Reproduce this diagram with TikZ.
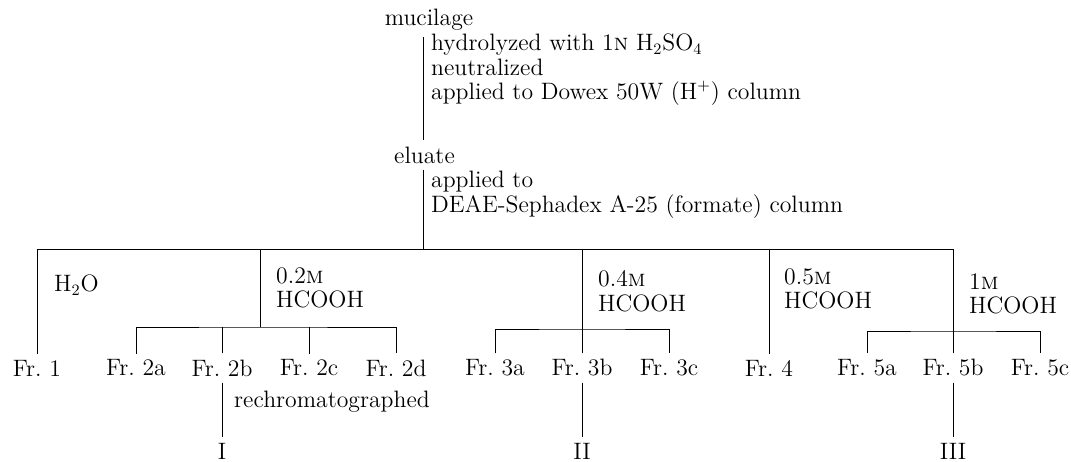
\documentclass[tikz,border=0pt]{standalone}
\usepackage{tikz}
\usetikzlibrary{positioning,calc}

\tikzset{
  plain/.style={inner sep=3.3pt},
  note/.style={plain, anchor=west, align=left, font=\fontsize{13.5}{14}\selectfont},
  frac/.style={plain},
}

\begin{document}
\begin{tikzpicture}[x=0.02cm, y=-0.02cm, font=\fontsize{13.5}{14}\selectfont, line width=0.45pt]
  \useasboundingbox (0,0) rectangle (1071,462);

  % top of the scheme
  \node[plain] (mucilage) at (429,20) {mucilage};
  \coordinate (trunk) at (423,0);
  \node[note] (hydro) at (425,70) {hydrolyzed with 1\textsc{n} H$_2$SO$_4$\\neutralized\\applied to Dowex 50W (H$^+$) column};
  \node[plain, anchor=west] (eluate) at (388,155) {eluate};
  \node[note] (deae) at (425,195) {applied to\\DEAE-Sephadex A-25 (formate) column};
  \draw (trunk |- mucilage.south) -- (trunk |- eluate.north);

  % fractions
  \node[frac] (fr1) at (37,368) {Fr.~1};
  \node[frac] (fr2a) at (136,368) {Fr.~2a};
  \node[frac] (fr2b) at (222,368) {Fr.~2b};
  \node[frac] (fr2c) at (309,368) {Fr.~2c};
  \node[frac] (fr2d) at (396,368) {Fr.~2d};
  \node[frac] (fr3a) at (495,368) {Fr.~3a};
  \node[frac] (fr3b) at (582,368) {Fr.~3b};
  \node[frac] (fr3c) at (669,368) {Fr.~3c};
  \node[frac] (fr4) at (769,368) {Fr.~4};
  \node[frac] (fr5a) at (867,368) {Fr.~5a};
  \node[frac] (fr5b) at (953,368) {Fr.~5b};
  \node[frac] (fr5c) at (1040,368) {Fr.~5c};

  % branch points
  \coordinate (main) at (0,249);
  \coordinate (b2) at (260,327);
  \coordinate (b3) at (582,329);
  \coordinate (b5) at (953,331);

  \draw (trunk |- eluate.south) -- (trunk |- main);
  \draw (fr1.north) -- (fr1.north |- main) -- (b5 |- main) -- (b5);
  \draw (b2 |- main) -- (b2);
  \draw (b3 |- main) -- (b3);
  \draw (fr4.north |- main) -- (fr4.north);

  % eluents
  \node[plain, anchor=west] (water) at (48,285) {H$_2$O};
  \node[note] (e02) at (270,288) {0.2\textsc{m}\\HCOOH};
  \node[note] (e04) at (592,291) {0.4\textsc{m}\\HCOOH};
  \node[note] (e05) at (778,289) {0.5\textsc{m}\\HCOOH};
  \node[note] (e1) at (963,294) {1\textsc{m}\\HCOOH};

  % sub-fractions
  \draw (fr2a.north) |- (b2) -| (fr2d.north);
  \draw (fr3a.north) |- (b3) -| (fr3c.north);
  \draw (fr5a.north) |- (b5) -| (fr5c.north);
  \foreach \f/\b in {fr2b/b2, fr2c/b2, fr3b/b3, fr5b/b5}
    \draw (\f.north) -- (\f.north |- \b);

  % rechromatography
  \node[plain] (r1) at (222,451) {I};
  \node[plain] (r2) at (582,451) {II};
  \node[plain] (r3) at (953,451) {III};
  \node[plain, anchor=west] (rechrom) at (228,402) {rechromatographed};
  \draw (fr2b.south) -- (r1.north);
  \draw (fr3b.south) -- (r2.north);
  \draw (fr5b.south) -- (r3.north);
\end{tikzpicture}
\end{document}
